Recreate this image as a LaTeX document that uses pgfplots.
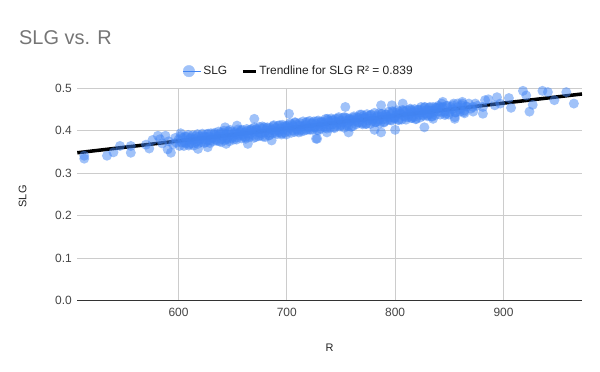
\documentclass[border=0pt]{standalone}
\usepackage{fontspec}
\setmainfont{Liberation Sans}
\usepackage{pgfplots}
\usepackage{pgfplotstable}
\pgfplotsset{compat=1.18}
\definecolor{gblue}{HTML}{4285F4}
\definecolor{gridgray}{HTML}{CCCCCC}
\definecolor{titlegray}{HTML}{757575}
\definecolor{ticktext}{HTML}{444444}
\definecolor{labeltext}{HTML}{222222}
\definecolor{axisline}{HTML}{333333}

\pgfplotstableread{
x y
513 0.341
513 0.334
534 0.341
540 0.349
546 0.364
556 0.364
556 0.348
570 0.367
573 0.358
576 0.378
581 0.388
583 0.380
585 0.370
588 0.388
590 0.356
591 0.375
593 0.348
595 0.368
597 0.383
598 0.372
602 0.394
618 0.357
627 0.361
643 0.408
644 0.369
654 0.412
664 0.369
670 0.428
686 0.377
702 0.440
727 0.381
728 0.381
737 0.396
754 0.456
757 0.396
781 0.402
787 0.460
787 0.396
797 0.460
800 0.402
807 0.464
815 0.448
824 0.456
827 0.408
832 0.456
835 0.428
841 0.456
843 0.464
844 0.468
847 0.440
853 0.460
855 0.432
855 0.428
862 0.468
864 0.448
872 0.456
881 0.456
881 0.440
883 0.472
886 0.474
892 0.460
894 0.479
897 0.464
905 0.477
907 0.454
918 0.494
921 0.483
924 0.445
927 0.461
936 0.494
941 0.491
947 0.472
958 0.491
965 0.464
}\outliers

\pgfplotstableread{
x y
600 0.379
601 0.364
602 0.387
603 0.372
604 0.383
605 0.364
606 0.386
607 0.370
608 0.377
609 0.390
610 0.368
611 0.381
612 0.370
613 0.389
614 0.365
615 0.381
616 0.388
617 0.375
618 0.369
619 0.387
620 0.381
621 0.373
622 0.393
623 0.379
624 0.387
625 0.372
626 0.392
627 0.377
628 0.386
629 0.371
630 0.394
631 0.382
632 0.375
633 0.392
634 0.390
635 0.379
636 0.387
637 0.398
638 0.375
639 0.395
640 0.380
641 0.387
642 0.400
643 0.378
644 0.392
645 0.380
646 0.399
647 0.375
648 0.391
649 0.398
650 0.385
651 0.379
652 0.397
653 0.391
654 0.384
655 0.403
656 0.389
657 0.397
658 0.382
659 0.402
660 0.387
661 0.396
662 0.381
663 0.404
664 0.393
665 0.385
666 0.402
667 0.400
668 0.389
669 0.397
670 0.408
671 0.385
672 0.405
673 0.401
674 0.387
675 0.409
676 0.394
677 0.405
678 0.386
679 0.408
680 0.385
681 0.401
682 0.408
683 0.395
684 0.389
685 0.407
686 0.401
687 0.394
688 0.413
689 0.399
690 0.407
691 0.392
692 0.412
693 0.397
694 0.406
695 0.391
696 0.414
697 0.403
698 0.395
699 0.412
700 0.410
701 0.399
702 0.407
703 0.418
704 0.395
705 0.415
706 0.411
707 0.397
708 0.419
709 0.404
710 0.415
711 0.396
712 0.418
713 0.402
714 0.409
715 0.422
716 0.400
717 0.414
718 0.402
719 0.421
720 0.403
721 0.423
722 0.409
723 0.417
724 0.402
725 0.422
726 0.407
727 0.416
728 0.401
729 0.424
730 0.412
731 0.405
732 0.422
733 0.420
734 0.409
735 0.417
736 0.428
737 0.405
738 0.425
739 0.421
740 0.407
741 0.429
742 0.414
743 0.425
744 0.406
745 0.428
746 0.412
747 0.419
748 0.432
749 0.410
750 0.424
751 0.412
752 0.431
753 0.407
754 0.423
755 0.430
756 0.417
757 0.411
758 0.429
759 0.423
760 0.426
761 0.411
762 0.434
763 0.422
764 0.415
765 0.432
766 0.430
767 0.419
768 0.427
769 0.438
770 0.415
771 0.435
772 0.431
773 0.416
774 0.439
775 0.424
776 0.435
777 0.416
778 0.438
779 0.422
780 0.429
781 0.442
782 0.420
783 0.433
784 0.422
785 0.441
786 0.417
787 0.433
788 0.440
789 0.427
790 0.421
791 0.439
792 0.433
793 0.425
794 0.445
795 0.431
796 0.439
797 0.424
798 0.444
799 0.429
800 0.429
801 0.437
802 0.448
803 0.425
804 0.445
805 0.441
806 0.426
807 0.449
808 0.434
809 0.445
810 0.426
811 0.448
812 0.432
813 0.439
814 0.452
815 0.430
816 0.443
817 0.432
818 0.451
819 0.427
820 0.443
821 0.450
822 0.437
823 0.431
824 0.449
825 0.443
826 0.435
827 0.455
828 0.441
829 0.449
830 0.434
831 0.454
832 0.439
833 0.448
834 0.433
835 0.456
836 0.444
837 0.437
838 0.454
839 0.452
840 0.459
842 0.444
844 0.456
846 0.437
848 0.459
850 0.444
852 0.450
854 0.464
856 0.443
858 0.456
860 0.445
862 0.464
864 0.441
866 0.457
868 0.464
870 0.452
872 0.445
874 0.464
876 0.459
}\core

\pgfplotstableread{
x y
605.5 0.372
607.5 0.386
609.5 0.365
611.5 0.384
613.5 0.378
615.5 0.371
617.5 0.392
619.5 0.377
621.5 0.388
623.5 0.371
625.5 0.385
627.5 0.393
629.5 0.377
631.5 0.383
633.5 0.395
635.5 0.376
637.5 0.391
639.5 0.373
641.5 0.395
643.5 0.388
645.5 0.383
647.5 0.402
649.5 0.382
651.5 0.394
653.5 0.379
655.5 0.393
657.5 0.401
659.5 0.390
661.5 0.384
663.5 0.399
665.5 0.390
667.5 0.404
669.5 0.383
671.5 0.402
673.5 0.396
675.5 0.389
677.5 0.410
679.5 0.395
681.5 0.406
683.5 0.389
685.5 0.403
687.5 0.411
689.5 0.395
691.5 0.401
693.5 0.413
695.5 0.394
697.5 0.409
699.5 0.391
701.5 0.413
703.5 0.406
705.5 0.401
707.5 0.420
709.5 0.400
711.5 0.412
713.5 0.398
715.5 0.411
717.5 0.419
719.5 0.408
721.5 0.402
723.5 0.418
725.5 0.408
727.5 0.422
729.5 0.401
731.5 0.420
733.5 0.415
735.5 0.407
737.5 0.428
739.5 0.413
741.5 0.424
743.5 0.408
745.5 0.421
747.5 0.429
749.5 0.413
751.5 0.419
753.5 0.432
755.5 0.412
757.5 0.427
759.5 0.409
761.5 0.431
763.5 0.425
765.5 0.419
767.5 0.438
769.5 0.418
771.5 0.430
773.5 0.416
775.5 0.429
777.5 0.437
779.5 0.426
781.5 0.420
783.5 0.436
785.5 0.426
787.5 0.440
789.5 0.419
791.5 0.438
793.5 0.433
795.5 0.425
797.5 0.446
799.5 0.431
801.5 0.442
803.5 0.426
805.5 0.439
807.5 0.447
809.5 0.432
811.5 0.437
813.5 0.450
815.5 0.430
817.5 0.445
819.5 0.428
821.5 0.449
823.5 0.443
825.5 0.437
827.5 0.456
829.5 0.437
831.5 0.448
833.5 0.434
835.5 0.447
837.5 0.455
839.5 0.445
841.5 0.438
843.5 0.454
845.5 0.444
847.5 0.458
849.5 0.438
851.5 0.456
853.5 0.451
855.5 0.443
857.5 0.464
859.5 0.450
861.5 0.460
863.5 0.444
865.5 0.457
}\coreb

\begin{document}
\begin{tikzpicture}[x=1bp,y=1bp]
\path[use as bounding box] (0,0) rectangle (600,371);
\node[anchor=base west, font=\fontsize{20}{24}\selectfont, text=titlegray, inner sep=0] at (19,327) {SLG vs. R};
\begin{axis}[
  at={(77.3bp,70.7bp)}, anchor=south west,
  scale only axis, width=504.7bp, height=212bp,
  xmin=506.6, xmax=972.5, ymin=0, ymax=0.5,
  clip=false,
  axis line style={draw=none},
  xtick={600,700,800,900},
  ytick={0,0.1,0.2,0.3,0.4,0.5},
  extra y ticks={0}, extra y tick labels={},
  extra y tick style={grid style={draw=axisline, line width=1bp}},
  major tick length=0pt,
  tick style={draw=none},
  grid=major,
  grid style={draw=gridgray, line width=0.8bp},
  /pgf/number format/assume math mode=true,
  y tick label style={/pgf/number format/fixed, /pgf/number format/fixed zerofill, /pgf/number format/precision=1, xshift=-2bp},
  tick label style={font=\fontsize{12}{14}\selectfont, text=ticktext},
  xticklabel style={yshift=-4bp},
  xlabel={R}, ylabel={SLG},
  xlabel style={at={(axis description cs:0.5,0)}, anchor=center, yshift=-47bp, font=\fontsize{11}{13}\selectfont, text=labeltext},
  ylabel style={at={(axis description cs:0,0.49)}, anchor=center, yshift=54.6bp, font=\fontsize{11}{13}\selectfont, text=labeltext},
  legend columns=-1,
  legend style={at={(axis description cs:0.209,1.081)}, anchor=west, draw=none, fill=none,
    font=\fontsize{12}{14}\selectfont, text=labeltext, inner sep=0pt,
    /tikz/every even column/.append style={column sep=12bp}},
]
\addplot[black, line width=3.5bp, forget plot] coordinates {(506.6,0.348) (972.5,0.4866)};
\addplot[only marks, color=gblue, mark=*, mark size=5bp, mark options={fill=gblue, draw opacity=0, fill opacity=0.5},
  legend image code/.code={\fill[gblue!50] (5.75bp,0) circle (5.75bp); \path (0,0) -- (18bp,0);}] table[x=x,y=y] {\core};
\addlegendentry{SLG}
\addplot[only marks, color=gblue, mark=*, mark size=5bp, mark options={fill=gblue, draw opacity=0, fill opacity=0.5}, forget plot] table[x=x,y=y] {\coreb};
\addplot[only marks, color=gblue, mark=*, mark size=5bp, mark options={fill=gblue, draw opacity=0, fill opacity=0.5}, forget plot] table[x=x,y=y] {\outliers};
\addlegendimage{legend image code/.code={\draw[black, line width=3bp] (0,0) -- (13bp,0);}}
\addlegendentry{Trendline for SLG R² = 0.839}
\end{axis}
\end{tikzpicture}
\end{document}
